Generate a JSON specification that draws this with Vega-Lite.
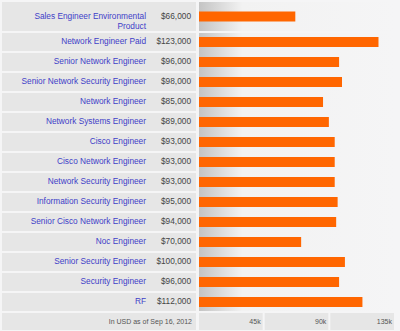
{
  "$schema": "https://vega.github.io/schema/vega-lite/v6.json",
  "background": "#f5f5f6",
  "padding": {"left": 2, "top": 2, "right": 4, "bottom": 1},
  "config": {"view": {"stroke": null}, "font": "Liberation Sans"},
  "datasets": {
    "jobs": [
      {"title": "Sales Engineer Environmental\nProduct", "salary": 66000},
      {"title": "Network Engineer Paid", "salary": 123000},
      {"title": "Senior Network Engineer", "salary": 96000},
      {"title": "Senior Network Security Engineer", "salary": 98000},
      {"title": "Network Engineer", "salary": 85000},
      {"title": "Network Systems Engineer", "salary": 89000},
      {"title": "Cisco Engineer", "salary": 93000},
      {"title": "Cisco Network Engineer", "salary": 93000},
      {"title": "Network Security Engineer", "salary": 93000},
      {"title": "Information Security Engineer", "salary": 95000},
      {"title": "Senior Cisco Network Engineer", "salary": 94000},
      {"title": "Noc Engineer", "salary": 70000},
      {"title": "Senior Security Engineer", "salary": 100000},
      {"title": "Security Engineer", "salary": 96000},
      {"title": "RF", "salary": 112000}
    ],
    "ticks": [
      {"start": 0, "end": 45000, "label": "45k"},
      {"start": 45000, "end": 90000, "label": "90k"},
      {"start": 90000, "end": 135000, "label": "135k"}
    ],
    "note": [{"text": "In USD as of Sep 16, 2012"}]
  },
  "spacing": 2,
  "vconcat": [
    {
      "spacing": 3,
      "hconcat": [
        {
          "width": 194,
          "height": 29,
          "data": {"name": "jobs"},
          "transform": [{"filter": "indexof(datum.title, '\\n') >= 0"}],
          "encoding": {
            "y": {"field": "title", "type": "nominal", "sort": null, "axis": null,
                  "scale": {"paddingInner": 0.1, "paddingOuter": 0}}
          },
          "layer": [
            {"mark": {"type": "rect", "color": "#e6e6e6"}},
            {"mark": {"type": "text", "align": "right", "baseline": "middle", "x": "width", "dx": -50,
                      "color": "#4040c8", "fontSize": 8.3, "lineBreak": "\n", "lineHeight": 10.5},
             "encoding": {"text": {"field": "title"}}},
            {"mark": {"type": "text", "align": "right", "baseline": "middle", "x": "width", "dx": -5,
                      "color": "#444444", "fontSize": 8.3},
             "encoding": {"text": {"field": "salary", "type": "quantitative", "format": "$,.0f"}}}
          ]
        },
        {
          "width": 197,
          "height": 29,
          "layer": [
            {"data": {"values": [{}]},
             "mark": {"type": "rect", "color": {"gradient": "linear", "x1": 0, "x2": 1, "y1": 0, "y2": 0,
                      "stops": [{"offset": 0, "color": "#c4c4c4"}, {"offset": 0.22, "color": "#f2f2f2"}, {"offset": 1, "color": "#f5f5f6"}]}},
             "encoding": {}},
            {"data": {"name": "jobs"},
             "transform": [{"filter": "indexof(datum.title, '\\n') >= 0"}],
             "mark": {"type": "bar", "color": "#ff6600", "height": 10},
             "encoding": {
               "y": {"field": "title", "type": "nominal", "sort": null, "axis": null,
                     "scale": {"paddingInner": 0.1, "paddingOuter": 0}},
               "x": {"field": "salary", "type": "quantitative", "axis": null,
                     "scale": {"domain": [0, 135000]}}
             }}
          ]
        }
      ]
    },
    {
      "spacing": 3,
      "hconcat": [
        {
          "width": 194,
          "height": 278,
          "data": {"name": "jobs"},
          "transform": [{"filter": "indexof(datum.title, '\\n') < 0"}],
          "encoding": {
            "y": {"field": "title", "type": "nominal", "sort": null, "axis": null,
                  "scale": {"paddingInner": 0.1, "paddingOuter": 0}}
          },
          "layer": [
            {"mark": {"type": "rect", "color": "#e6e6e6"}},
            {"mark": {"type": "text", "align": "right", "baseline": "middle", "x": "width", "dx": -50,
                      "color": "#4040c8", "fontSize": 8.3},
             "encoding": {"text": {"field": "title"}}},
            {"mark": {"type": "text", "align": "right", "baseline": "middle", "x": "width", "dx": -5,
                      "color": "#444444", "fontSize": 8.3},
             "encoding": {"text": {"field": "salary", "type": "quantitative", "format": "$,.0f"}}}
          ]
        },
        {
          "width": 197,
          "height": 278,
          "layer": [
            {"data": {"values": [{}]},
             "mark": {"type": "rect", "color": {"gradient": "linear", "x1": 0, "x2": 1, "y1": 0, "y2": 0,
                      "stops": [{"offset": 0, "color": "#c4c4c4"}, {"offset": 0.22, "color": "#f2f2f2"}, {"offset": 1, "color": "#f5f5f6"}]}},
             "encoding": {}},
            {"data": {"name": "jobs"},
             "transform": [{"filter": "indexof(datum.title, '\\n') < 0"}],
             "mark": {"type": "bar", "color": "#ff6600", "height": 10},
             "encoding": {
               "y": {"field": "title", "type": "nominal", "sort": null, "axis": null,
                     "scale": {"paddingInner": 0.1, "paddingOuter": 0}},
               "x": {"field": "salary", "type": "quantitative", "axis": null,
                     "scale": {"domain": [0, 135000]}}
             }}
          ]
        }
      ]
    },
    {
      "spacing": 3,
      "hconcat": [
        {
          "width": 194,
          "height": 17,
          "data": {"name": "note"},
          "layer": [
            {"mark": {"type": "rect", "color": "#e6e6e6"}, "encoding": {}},
            {"mark": {"type": "text", "align": "right", "baseline": "middle", "x": "width", "dx": -4,
                      "y": "height", "dy": -8.5, "color": "#555555", "fontSize": 7},
             "encoding": {"text": {"field": "text"}}}
          ]
        },
        {
          "width": 197,
          "height": 17,
          "data": {"name": "ticks"},
          "encoding": {
            "x": {"field": "start", "type": "quantitative", "axis": null, "scale": {"domain": [0, 135000]}}
          },
          "layer": [
            {"mark": {"type": "rect", "color": "#e6e6e6", "x2Offset": -2},
             "encoding": {"x2": {"field": "end"}}},
            {"mark": {"type": "text", "align": "right", "baseline": "middle", "dx": -4,
                      "y": "height", "dy": -8.5, "color": "#555555", "fontSize": 7},
             "encoding": {"x": {"field": "end", "type": "quantitative"}, "text": {"field": "label"}}}
          ]
        }
      ]
    }
  ]
}
